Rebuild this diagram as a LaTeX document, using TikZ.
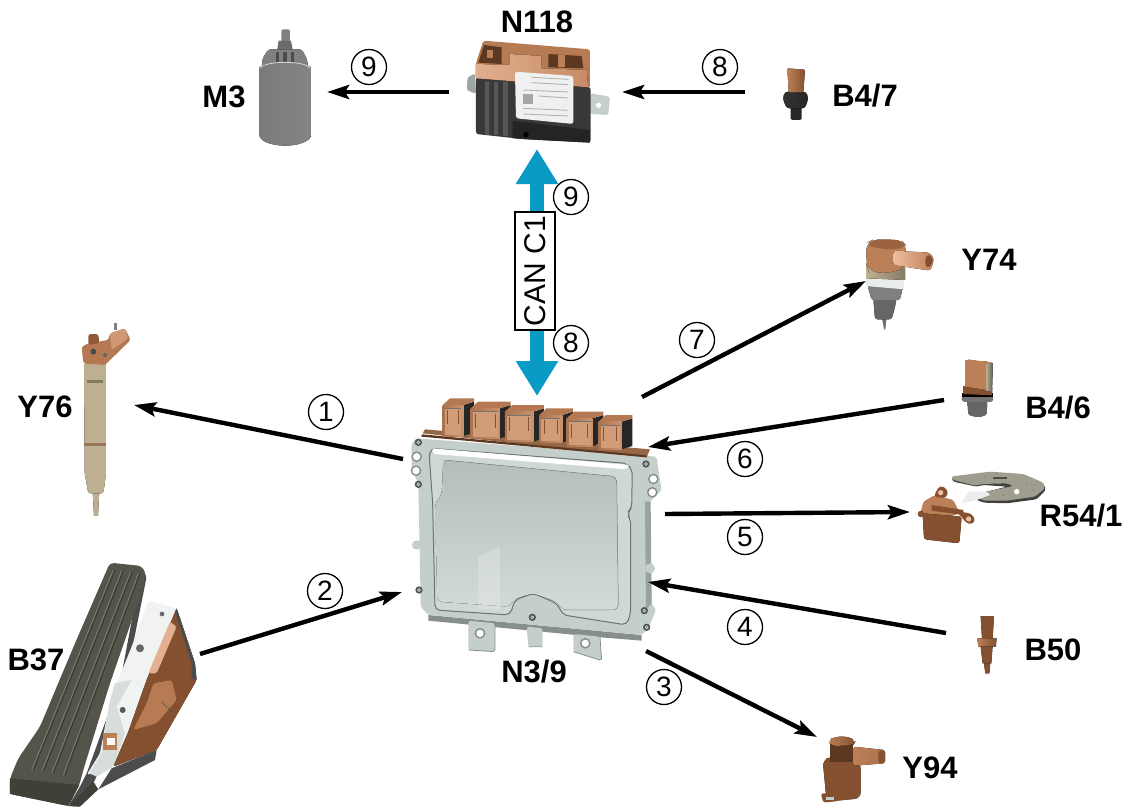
\documentclass[tikz,border=0pt]{standalone}
\usepackage{fontspec}
\setmainfont{Liberation Sans}
\usetikzlibrary{arrows.meta,calc}
\definecolor{cop}{HTML}{BC8058}
\definecolor{copL}{HTML}{EDBD9F}
\definecolor{copD}{HTML}{85502F}
\definecolor{plate}{HTML}{C4CECB}
\definecolor{plateL}{HTML}{E9EEEC}
\definecolor{plateD}{HTML}{868F8C}
\definecolor{pad}{HTML}{55544B}
\definecolor{blueA}{HTML}{0A9AC6}
\definecolor{ivory}{HTML}{F6F1E4}
\definecolor{ivoryD}{HTML}{BDB091}
\tikzset{
  zoomed/.style={shift={(#1)},x=0.3333pt,y=-0.3333pt},
  lab/.style={font=\fontsize{31}{31}\selectfont\bfseries,inner sep=0pt},
  num/.style={circle,draw=black,line width=1.3pt,minimum size=35pt,inner sep=0pt,font=\fontsize{28}{28}\selectfont},
  conn/.style={line width=4.4pt,-{Stealth[length=22pt,width=14pt,inset=4pt]},black},
  canarrow/.style={line width=14pt,blueA,{Triangle[length=35pt,width=40pt]}-{Triangle[length=35pt,width=40pt]}},
  canbox/.style={draw=black,line width=1.5pt,fill=white,minimum width=40pt,minimum height=118pt,inner sep=0pt},
  canlab/.style={rotate=90,inner sep=0pt,font=\fontsize{30}{30}\selectfont},
  soft/.style={rounded corners=2.5pt},
}
\newcommand{\ecuconn}[4]{%
  \fill[black!85] (#2,#3) -- ++(32,-10) -- ++(0,#4-#3) -- (#2,#4) -- cycle;
  \fill[cop!85!copD] (#1,#3) -- ++(22,-20) -- ++(#2-#1+10,0) -- ++(0,10) -- (#2,#3) -- cycle;
  \fill[left color=cop!90!black,right color=cop!70!copL] (#1,#3) rectangle (#2,#4);
  \fill[copL!45!cop] ($(#1,#3)+(6,10)$) rectangle ($(#2,#4)-(6,4)$);
  \draw[copD,line width=0.9pt] ($(#1,#3)+(14,16)$) -- ++(0,42) ($(#2,#3)+(-15,16)$) -- ++(0,42);
  \draw[black!55,line width=0.8pt] ($(#1,#3)+(6,10)$) -- ($(#2,#3)+(-6,10)$);
}
\newcommand{\screw}[2]{\fill[plateD!60!black] (#1,#2) circle (11); \fill[plateL] (#1,#2) circle (5.5);\fill[black!60] (#1,#2) circle (2.5);}
\newcommand{\hole}[2]{\fill[plateD] (#1,#2) circle (16);\fill[white] (#1,#2) circle (11);}
\begin{document}
\begin{tikzpicture}[x=1pt,y=-1pt]
\useasboundingbox (0,0) rectangle (1131,809);
\fill[white] (0,0) rectangle (1131,809);

% ---------- N3/9 control unit
\begin{scope}[zoomed={400,380}]
  \fill[plateD] (85,705)--(725,765)--(725,782)--(600,772)--(85,722)--cycle;
  \fill[plate,soft] (205,722)--(285,730)--(285,815)--(205,810)--cycle;
  \fill[plate,soft] (380,740)--(428,745)--(428,800)--(385,800)--cycle;
  \fill[plate,soft] (520,762)--(600,770)--(605,842)--(520,815)--cycle;
  \draw[plateD,line width=0.8pt,soft] (205,810)--(285,815)--(285,730) (385,800)--(428,800) (520,815)--(605,842)--(600,770);
  \hole{240}{760}\hole{556}{790}
  \fill[plate,soft] (50,175)--(770,230)--(775,270)--(785,330)--(750,365)--(755,670)--(768,690)--(745,745)--(725,765)--(85,705)--(62,680)--(60,560)--(55,310)--(35,270)--(35,190)--cycle;
  \fill[plateD!70!plate] (735,365)--(752,365)--(755,670)--(738,690)--cycle;
  % bezel
  \filldraw[draw=plateD!80!black,line width=1pt,fill=plate!70!plateL,rounded corners=5pt] (92,205) -- (88,230) -- (98,370) -- (105,690) -- (330,705) -- (345,660) -- (400,640) -- (470,670) -- (490,705) -- (680,735) -- (692,700) -- (692,420) -- (680,400) -- (695,385) -- (697,270) -- (680,250) -- cycle;
  \fill[top color=plate!92!black,bottom color=plate!60!plateL,rounded corners=5pt] (130,240) -- (650,290) -- (655,690) -- (490,690) -- (470,665) -- (400,640) -- (345,655) -- (330,680) -- (112,665) -- (105,370) -- (125,345) -- cycle;
  \fill[white,rounded corners=3pt] (95,205) -- (690,255) -- (680,268) -- (100,222) -- cycle;
  \fill[plateL,opacity=0.35] (235,530) -- (300,500) -- (300,690) -- (235,685) -- cycle;
  \draw[plateD,line width=0.5pt,rounded corners=5pt] (130,240) -- (650,290) -- (655,690) -- (490,690);
  \hole{50}{230}\hole{48}{272}\hole{760}{297}\hole{757}{337}
  \screw{55}{187}\screw{55}{313}\screw{57}{630}\screw{397}{712}\screw{733}{692}\screw{740}{742}\screw{738}{252}
  \fill[plate] (50,495) circle (14);\fill[plate] (750,565) circle (15);
  \fill[cop!80!black] (68,160) -- (75,148) -- (750,208) -- (740,232) -- cycle;
  \fill[copD!70!black] (66,163) -- (740,226) -- (740,232) -- (64,170) -- cycle;
  \ecuconn{128}{190}{75}{168}
  \ecuconn{212}{300}{85}{175}
  \ecuconn{315}{400}{95}{185}
  \ecuconn{418}{487}{105}{188}
  \ecuconn{500}{578}{115}{198}
  \ecuconn{596}{665}{125}{208}
\end{scope}

% ---------- N118
\begin{scope}[zoomed={240,0}]
  \fill[plate!80!black,soft] (705,220)--(683,232)--(680,270)--(708,282)--cycle;
  \fill[plate,soft] (1050,280)--(1110,290)--(1105,345)--(1050,342)--cycle;
  \fill[white] (1076,316) circle (8);
  \fill[black!78,soft] (708,232)--(1052,262)--(1052,428)--(855,418)--(708,402)--cycle;
  \fill[black!66] (735,245)--(748,245)--(748,405)--(735,403)--cycle;
  \fill[black!66] (762,245)--(775,245)--(775,405)--(762,405)--cycle;
  \fill[black!66] (790,245)--(803,245)--(803,408)--(790,408)--cycle;
  \fill[black!86] (818,362) -- (1050,390) -- (1050,428) -- (818,415) -- cycle;
  \fill[cop!90!copD,soft] (708,190)--(730,122)--(1050,148)--(1050,265)--(1030,240)--(708,235)--cycle;
  \fill[left color=copL!75!cop,right color=cop!80!copL] (708,192)--(808,195)--(808,162)--(905,168)--(905,205)--(1040,210)--(1045,262)--(708,235)--cycle;
  \fill[copD!70!black] (732,135)--(785,142)--(785,192)--(715,188)--cycle;
  \fill[copD!70!black] (925,162)--(1025,168)--(1030,205)--(925,202)--cycle;
  \fill[cop] (742,150)--(760,150)--(760,175)--(742,175)--cycle;
  \fill[cop] (955,165)--(975,165)--(975,200)--(955,200)--cycle;
  \fill[black!6,soft] (825,215)--(1000,228)--(1000,372)--(828,355)--cycle;
  \foreach \yy/\xa/\xb in {232/875/985,248/875/985,270/850/985,288/895/985,325/850/985,342/850/985}
    \draw[black!30,line width=0.9pt] (\xa,\yy) -- (\xb,\yy+6);
  \fill[black!35] (848,282) rectangle (880,312);
  \fill[black] (858,404) circle (8);
\end{scope}

% ---------- M3
\begin{scope}[zoomed={240,0}]
  \fill[black!50,rounded corners=2pt] (124,88) rectangle (150,125);
  \fill[black!58] (116,122) -- (153,122) -- (160,160) -- (110,160) -- cycle;
  \fill[left color=black!50,middle color=black!35,right color=black!50,soft] (68,175) -- (85,148) -- (185,148) -- (200,175) -- (205,200) -- (65,200) -- cycle;
  \fill[black!70] (107,155) rectangle (118,195);
  \fill[black!70] (130,155) rectangle (140,195);
  \fill[black!70] (152,155) rectangle (163,195);
  \fill[left color=black!52,middle color=black!28,right color=black!48] (58,205) arc[start angle=180,end angle=360,x radius=77.5,y radius=18] -- (213,405) arc[start angle=0,end angle=180,x radius=77.5,y radius=32] -- cycle;
  \draw[black!15,line width=0.8pt] (62,205) arc[start angle=180,end angle=360,x radius=73.5,y radius=18];
\end{scope}

% ---------- B4/7
\begin{scope}[zoomed={770,55}]
  \fill[black!85,rounded corners=1.5pt] (62,155) -- (95,155) -- (95,195) -- (62,195) -- cycle;
  \fill[left color=black!80,middle color=black!62,right color=black!85,rounded corners=3pt] (45,110) -- (108,110) -- (115,130) -- (105,160) -- (50,160) -- (38,130) -- cycle;
  \fill[left color=cop,middle color=copL!75!cop,right color=copD,rounded corners=1pt] (52,40) -- (105,44) -- (100,112) -- (56,112) -- cycle;
\end{scope}

% ---------- Y74 B4/6 R54/1
\begin{scope}[zoomed={840,220}]
  % Y74
  \fill[plateD!80!black] (125,290) -- (140,290) -- (136,328) -- (132,328) -- cycle;
  \fill[left color=black!60,middle color=black!22,right color=black!60,soft] (100,235) -- (170,235) -- (165,260) -- (155,298) -- (105,298) -- cycle;
  \fill[left color=black!50,middle color=black!15,right color=black!50,soft] (82,195) -- (190,195) -- (180,240) -- (95,240) -- cycle;
  \fill[plateL,soft] (76,172) -- (192,176) -- (192,208) -- (78,198) -- cycle;
  \fill[left color=ivoryD,middle color=ivory!80!ivoryD,right color=ivoryD!70!black] (80,130) -- (195,130) -- (195,180) -- (80,175) -- cycle;
  \fill[left color=cop,middle color=copL,right color=cop,rounded corners=8pt] (80,135) -- (78,70) -- (100,58) -- (185,60) -- (200,80) -- (195,145) -- (130,162) -- (85,150) -- cycle;
  \fill[copD!60!cop,rounded corners=6pt] (80,78) -- (100,58) -- (185,60) -- (200,80) -- (150,90) -- cycle;
  \fill[left color=copL,right color=cop,rounded corners=3pt] (160,92) -- (270,98) -- (282,118) -- (272,152) -- (160,135) -- cycle;
  \fill[copD,rounded corners=3pt] (262,102) -- (278,112) -- (278,130) -- (262,146) -- (254,125) -- cycle;
  % B4/6
  \fill[left color=black!60,middle color=black!25,right color=black!60,soft] (382,540) -- (442,540) -- (440,585) -- (415,592) -- (385,585) -- cycle;
  \fill[black!55,soft] (363,530) -- (462,530) -- (458,546) -- (367,546) -- cycle;
  \fill[black] (367,518) -- (458,518) -- (458,532) -- (367,532) -- cycle;
  \fill[left color=copD,middle color=cop,right color=copD] (370,498) -- (456,500) -- (456,526) -- (370,522) -- cycle;
  \fill[left color=cop,middle color=copL,right color=cop] (375,422) -- (440,424) -- (440,510) -- (375,500) -- cycle;
  \fill[left color=ivoryD,right color=black!65] (438,425) -- (459,430) -- (456,516) -- (438,512) -- cycle;
  \fill[cop] (375,425) -- (385,418) -- (458,428) -- (440,432) -- cycle;
  % R54/1 disc
  \fill[black!75,soft] (335,775) -- (450,758) -- (550,765) -- (610,790) -- (618,810) -- (590,838) -- (500,850) -- (430,848) -- (400,835) -- (420,820) -- (500,800) -- (430,795) -- (410,800) -- (340,785) -- cycle;
  \fill[plateD!55!ivoryD,soft] (332,770) -- (450,755) -- (550,762) -- (610,788) -- (615,805) -- (585,830) -- (500,842) -- (430,842) -- (410,830) -- (440,815) -- (520,798) -- (500,790) -- (430,792) -- (405,797) -- (340,780) -- cycle;
  \fill[white] (530,815) circle (8);
  \fill[black!70] (460,770) rectangle (500,778);
  \foreach \p in {(435,770),(560,790),(580,810),(490,825),(470,760)} \fill[black!55] \p circle (2);
  \fill[plateL] (365,850) -- (385,815) -- (440,815) -- (450,825) -- (410,840) -- cycle;
  \fill[cop,soft] (240,885) -- (250,845) -- (285,825) -- (340,840) -- (360,880) -- (330,890) -- cycle;
  \fill[left color=copD,middle color=cop,right color=copD,soft] (248,880) -- (365,890) -- (358,970) -- (252,958) -- cycle;
  \fill[copD,rounded corners=4pt] (280,830) -- (300,795) -- (325,810) -- (320,835) -- cycle;
  \fill[copL] (302,818) circle (8);
  \fill[copD,rounded corners=4pt] (350,875) -- (395,880) -- (408,905) -- (385,915) -- cycle;
  \fill[copL] (386,897) circle (8);
  \fill[copD] (243,882) circle (10);
  \fill[copD] (275,855) -- (370,870) -- (370,885) -- (275,872) -- cycle;
\end{scope}

% ---------- Y76
\begin{scope}[zoomed={60,310}]
  \fill[left color=ivoryD,middle color=ivory,right color=ivoryD] (98,540) -- (118,540) -- (114,618) -- (102,618) -- cycle;
  \fill[left color=ivoryD,middle color=ivory,right color=ivoryD,soft] (72,160) -- (138,160) -- (138,492) -- (130,550) -- (85,550) -- (74,490) -- cycle;
  \fill[ivoryD!70!black] (82,210) -- (130,210) -- (130,218) -- (82,218) -- cycle;
  \fill[ivoryD] (75,258) -- (135,258) -- (135,263) -- (75,263) -- cycle;
  \fill[copD!60!ivoryD] (73,398) -- (137,398) -- (137,408) -- (73,408) -- cycle;
  \fill[ivoryD] (75,335) -- (135,335) -- (135,340) -- (75,340) -- cycle;
  \fill[black!50] (163,38) rectangle (172,60);
  \fill[cop!85!copD,soft] (65,110) -- (85,100) -- (145,90) -- (150,70) -- (195,55) -- (212,90) -- (135,165) -- (70,160) -- cycle;
  \fill[copD!80!cop,soft] (85,72) -- (115,72) -- (118,100) -- (85,105) -- cycle;
  \fill[cop!60!copL,soft] (150,70) -- (195,55) -- (205,85) -- (155,120) -- cycle;
  \fill[black!70] (100,125) circle (9);\fill[black!60] (135,135) circle (6);
\end{scope}

% ---------- B37
\begin{scope}[zoomed={0,540}]
  \fill[black!70,soft] (425,85) -- (440,110) -- (400,310) -- (340,480) -- (260,700) -- (240,740) -- (205,798) -- (240,800) -- (285,720) -- (320,640) -- cycle;
  \fill[pad!75!black] (205,798) -- (280,725) -- (295,748) -- (240,800) -- cycle;
  \fill[plateL!70!white,soft] (445,182) -- (530,205) -- (340,680) -- (260,705) -- (300,640) -- (330,480) -- (395,320) -- cycle;
  \fill[plate!70!white] (395,420) -- (345,430) -- (330,480) -- (305,640) -- (268,700) -- (290,710) -- (340,680) -- (375,580) -- (350,500) -- cycle;
  \fill[left color=copD,middle color=cop,right color=copD,soft] (530,205) -- (585,370) -- (590,420) -- (470,630) -- (340,680) -- (385,575) -- (440,420) -- cycle;
  \fill[copL!80!cop,soft] (510,245) -- (530,260) -- (470,400) -- (445,400) -- cycle;
  \fill[cop!90!copD,soft] (460,430) -- (515,420) -- (530,480) -- (470,550) -- (400,570) -- (440,490) -- cycle;
  \foreach \i in {0,1,2,3,4} \draw[black!70,line width=0.7pt] (490+6*\i,485+6*\i) -- ++(-5,5);
  \fill[black!70] (295,748) -- (335,685) -- (470,630) -- (465,660) -- cycle;
  \fill[black!70] (530,205) -- (585,370) -- (590,420) -- (575,415) -- (575,370) -- (525,215) -- cycle;
  \fill[cop] (308,580) rectangle (350,630);\fill[white] (320,595) rectangle (345,615);
  \fill[black!60] (420,325) circle (12);\fill[black!60] (486,222) circle (7);\fill[black!65] (368,510) circle (9);
  \fill[pad,rounded corners=4pt] (30,715) -- (55,655) -- (120,560) -- (225,310) -- (330,68) -- (425,78) -- (438,100) -- (420,170) -- (330,430) -- (250,690) -- (238,735) -- (205,798) -- (30,762) -- cycle;
  \fill[pad!75!black] (30,715) -- (238,735) -- (205,798) -- (30,762) -- cycle;
  \draw[pad!75!white,line width=0.8pt] (340,90) -- (95,690) (365,92) -- (125,695) (392,95) -- (155,700) (415,100) -- (190,705);
  \draw[pad!60!black,line width=0.8pt] (345,90) -- (100,690) (370,92) -- (130,695) (397,95) -- (160,700) (420,100) -- (195,705);
\end{scope}

% ---------- Y94 B50
\begin{scope}[zoomed={790,600}]
  \fill[left color=copD,middle color=cop!80!copL,right color=copD,rounded corners=6pt] (98,480) -- (125,470) -- (195,470) -- (212,490) -- (212,595) -- (110,605) -- cycle;
  \fill[copD!70!black] (120,425) rectangle (190,485);
  \fill[left color=cop,right color=copD,rounded corners=5pt] (113,422) -- (135,410) -- (175,410) -- (197,422) -- (190,436) -- (125,438) -- cycle;
  \fill[left color=cop,right color=cop!70!copD,soft] (190,440) -- (285,450) -- (285,490) -- (190,497) -- cycle;
  \fill[copD,soft] (265,452) -- (285,452) -- (285,488) -- (265,490) -- cycle;
  \fill[copD,soft] (92,580) -- (145,580) -- (145,603) -- (100,608) -- cycle;
  \fill[plate] (108,590) rectangle (132,600);
  % B50
  \fill[left color=copD,middle color=copL!60!cop,right color=copD] (572,48) -- (612,48) -- (608,115) -- (576,115) -- cycle;
  \fill[left color=cop,middle color=copL,right color=copD] (562,115) -- (620,115) -- (618,140) -- (565,140) -- cycle;
  \fill[left color=copD,middle color=cop,right color=copD] (572,140) -- (608,140) -- (604,190) -- (578,190) -- cycle;
  \fill[left color=copD,middle color=cop,right color=copD] (582,190) -- (601,190) -- (598,220) -- (586,220) -- cycle;
  \fill[black!60] (586,68) circle (3);
\end{scope}

% ---------- CAN link
\coordinate (canTop) at (537,149);
\coordinate (canBot) at (537,396);
\draw[canarrow] (canTop) -- (canBot);
\node[canbox] (canbox) at (535,271) {};
\node[canlab] (canlab) at (535,271) {CAN C1};
\node[num] (n9c) at (571,197) {9};
\node[num] (n8c) at (571,343) {8};

% ---------- arrow ends
\coordinate (a9s) at (449,92);   \coordinate (a9e) at (327,92);
\coordinate (a8s) at (745,92);   \coordinate (a8e) at (622,92);
\coordinate (a1s) at (403,459);  \coordinate (a1e) at (134,405);
\coordinate (a2s) at (200,654);  \coordinate (a2e) at (402,592);
\coordinate (a3s) at (646,651);  \coordinate (a3e) at (817,737);
\coordinate (a4s) at (946,633);  \coordinate (a4e) at (648,582);
\coordinate (a5s) at (665,514);  \coordinate (a5e) at (910,512);
\coordinate (a6s) at (944,400);  \coordinate (a6e) at (648,447);
\coordinate (a7s) at (642,397);  \coordinate (a7e) at (866,281);
\foreach \a in {9,8,1,2,3,4,5,6,7} \draw[conn] (a\a s) -- (a\a e);

% ---------- numbers
\node[num] (n9) at (369,67) {9};
\node[num] (n8) at (720,67) {8};
\node[num] (n1) at (326,412) {1};
\node[num] (n2) at (325,591) {2};
\node[num] (n3) at (664,687) {3};
\node[num] (n4) at (745,627) {4};
\node[num] (n5) at (745,537) {5};
\node[num] (n6) at (745,459) {6};
\node[num] (n7) at (697,340) {7};

% ---------- labels
\node[lab] (lM3) at (224,97) {M3};
\node[lab] (lN118) at (537,22) {N118};
\node[lab] (lB47) at (865,96) {B4/7};
\node[lab] (lY74) at (989,260) {Y74};
\node[lab] (lB46) at (1058,408) {B4/6};
\node[lab] (lR54) at (1081,516) {R54/1};
\node[lab] (lY76) at (45,407) {Y76};
\node[lab] (lB37) at (36,660) {B37};
\node[lab] (lN39) at (534,672) {N3/9};
\node[lab] (lB50) at (1053,650) {B50};
\node[lab] (lY94) at (930,768) {Y94};
\end{tikzpicture}
\end{document}
